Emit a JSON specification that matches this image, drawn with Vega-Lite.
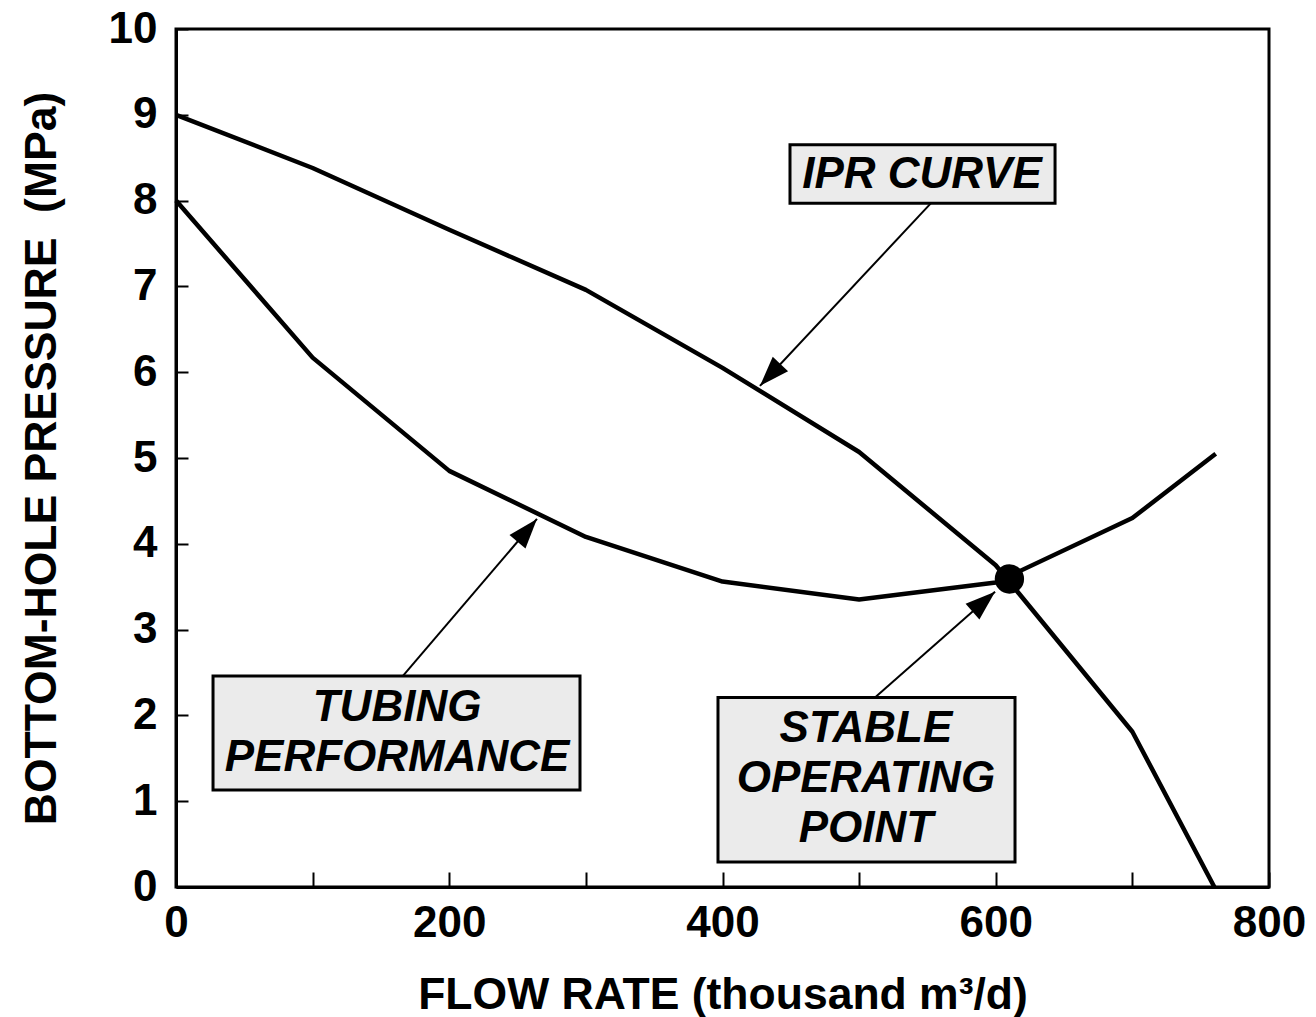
{
  "$schema": "https://vega.github.io/schema/vega-lite/v6.json",
  "width": 1093,
  "height": 858,
  "autosize": {"type": "none"},
  "padding": {"left": 176, "top": 29, "right": 47, "bottom": 130},
  "background": "white",
  "config": {
    "font": "Liberation Sans",
    "view": {"stroke": "black", "strokeWidth": 3}
  },
  "datasets": {
    "curves": [
      {"curve": "IPR", "q": 0, "p": 9.0},
      {"curve": "IPR", "q": 100, "p": 8.38},
      {"curve": "IPR", "q": 200, "p": 7.66},
      {"curve": "IPR", "q": 300, "p": 6.96},
      {"curve": "IPR", "q": 400, "p": 6.05},
      {"curve": "IPR", "q": 500, "p": 5.07},
      {"curve": "IPR", "q": 600, "p": 3.75},
      {"curve": "IPR", "q": 700, "p": 1.81},
      {"curve": "IPR", "q": 760, "p": 0.0},
      {"curve": "Tubing", "q": 0, "p": 8.0},
      {"curve": "Tubing", "q": 100, "p": 6.17},
      {"curve": "Tubing", "q": 200, "p": 4.85},
      {"curve": "Tubing", "q": 300, "p": 4.08},
      {"curve": "Tubing", "q": 400, "p": 3.56},
      {"curve": "Tubing", "q": 500, "p": 3.35},
      {"curve": "Tubing", "q": 600, "p": 3.55},
      {"curve": "Tubing", "q": 700, "p": 4.3},
      {"curve": "Tubing", "q": 761, "p": 5.05}
    ],
    "operating": [{"q": 610, "p": 3.59}],
    "boxes": [
      {"name": "IPR", "q": 449.4, "q2": 643.4, "p": 8.65, "p2": 7.97},
      {"name": "Tubing", "q": 27.1, "q2": 295.7, "p": 2.46, "p2": 1.13},
      {"name": "Stable", "q": 396.7, "q2": 614.1, "p": 2.21, "p2": 0.29}
    ],
    "labels": [
      {"name": "IPR", "text": "IPR CURVE", "q": 546, "p": 8.3},
      {"name": "Tubing", "text": "TUBING\nPERFORMANCE", "q": 161.8, "p": 2.09},
      {"name": "Stable", "text": "STABLE\nOPERATING\nPOINT", "q": 505, "p": 1.84}
    ],
    "arrows": [
      {"name": "IPR", "q": 552.6, "p": 7.97, "q2": 427.4, "p2": 5.84},
      {"name": "Tubing", "q": 166.1, "p": 2.46, "q2": 264.2, "p2": 4.29},
      {"name": "Stable", "q": 511.6, "p": 2.21, "q2": 599.5, "p2": 3.44}
    ]
  },
  "layer": [
    {
      "data": {"name": "curves"},
      "mark": {"type": "line", "color": "black", "strokeWidth": 4.5, "strokeJoin": "round"},
      "encoding": {
        "x": {
          "field": "q", "type": "quantitative",
          "scale": {"domain": [0, 800], "nice": false, "zero": false},
          "axis": {
            "title": "FLOW RATE (thousand m³/d)",
            "values": [0, 100, 200, 300, 400, 500, 600, 700, 800],
            "labelExpr": "datum.value % 200 === 0 ? datum.label : ''",
            "grid": false,
            "tickSize": -15, "tickWidth": 2, "tickColor": "black",
            "domainColor": "black", "domainWidth": 3,
            "labelFont": "Liberation Sans", "labelFontWeight": "bold", "labelFontSize": 44,
            "labelColor": "black", "labelPadding": 29, "labelFlush": false, "labelOverlap": false,
            "titleFont": "Liberation Sans", "titleFontWeight": "bold", "titleFontSize": 44.5,
            "titleColor": "black", "titlePadding": 28
          }
        },
        "y": {
          "field": "p", "type": "quantitative",
          "scale": {"domain": [0, 10], "nice": false, "zero": false},
          "axis": {
            "title": "BOTTOM-HOLE PRESSURE\u00a0 (MPa)",
            "values": [0, 1, 2, 3, 4, 5, 6, 7, 8, 9, 10],
            "format": "d",
            "grid": false,
            "tickSize": -12, "tickWidth": 2, "tickColor": "black",
            "domainColor": "black", "domainWidth": 3,
            "labelFont": "Liberation Sans", "labelFontWeight": "bold", "labelFontSize": 44,
            "labelColor": "black", "labelPadding": 31, "labelFlush": false, "labelOverlap": false,
            "titleFont": "Liberation Sans", "titleFontWeight": "bold", "titleFontSize": 44.5,
            "titleColor": "black", "titlePadding": 44
          }
        },
        "detail": {"field": "curve", "type": "nominal"}
      }
    },
    {
      "data": {"name": "arrows"},
      "mark": {"type": "rule", "color": "black", "strokeWidth": 2},
      "encoding": {
        "x": {"field": "q", "type": "quantitative"},
        "y": {"field": "p", "type": "quantitative"},
        "x2": {"field": "q2"},
        "y2": {"field": "p2"}
      }
    },
    {
      "data": {"name": "arrows"},
      "transform": [{"filter": "datum.name === 'IPR'"}],
      "mark": {"type": "point", "shape": "M0,0L0.35,1L-0.35,1Z", "filled": true, "color": "black", "size": 3600, "angle": 223, "opacity": 1},
      "encoding": {
        "x": {"field": "q2", "type": "quantitative"},
        "y": {"field": "p2", "type": "quantitative"}
      }
    },
    {
      "data": {"name": "arrows"},
      "transform": [{"filter": "datum.name === 'Tubing'"}],
      "mark": {"type": "point", "shape": "M0,0L0.35,1L-0.35,1Z", "filled": true, "color": "black", "size": 3600, "angle": 40.5, "opacity": 1},
      "encoding": {
        "x": {"field": "q2", "type": "quantitative"},
        "y": {"field": "p2", "type": "quantitative"}
      }
    },
    {
      "data": {"name": "arrows"},
      "transform": [{"filter": "datum.name === 'Stable'"}],
      "mark": {"type": "point", "shape": "M0,0L0.35,1L-0.35,1Z", "filled": true, "color": "black", "size": 3600, "angle": 48.8, "opacity": 1},
      "encoding": {
        "x": {"field": "q2", "type": "quantitative"},
        "y": {"field": "p2", "type": "quantitative"}
      }
    },
    {
      "data": {"name": "operating"},
      "mark": {"type": "point", "shape": "circle", "filled": true, "color": "black", "size": 860, "opacity": 1},
      "encoding": {
        "x": {"field": "q", "type": "quantitative"},
        "y": {"field": "p", "type": "quantitative"}
      }
    },
    {
      "data": {"name": "boxes"},
      "mark": {"type": "rect", "fill": "#ebebeb", "stroke": "black", "strokeWidth": 3},
      "encoding": {
        "x": {"field": "q", "type": "quantitative"},
        "x2": {"field": "q2"},
        "y": {"field": "p", "type": "quantitative"},
        "y2": {"field": "p2"}
      }
    },
    {
      "data": {"name": "labels"},
      "mark": {"type": "text", "font": "Liberation Sans", "fontStyle": "italic", "fontWeight": "bold", "fontSize": 44, "color": "black", "align": "center", "baseline": "middle", "lineBreak": "\n", "lineHeight": 50},
      "encoding": {
        "x": {"field": "q", "type": "quantitative"},
        "y": {"field": "p", "type": "quantitative"},
        "text": {"field": "text", "type": "nominal"}
      }
    }
  ]
}
